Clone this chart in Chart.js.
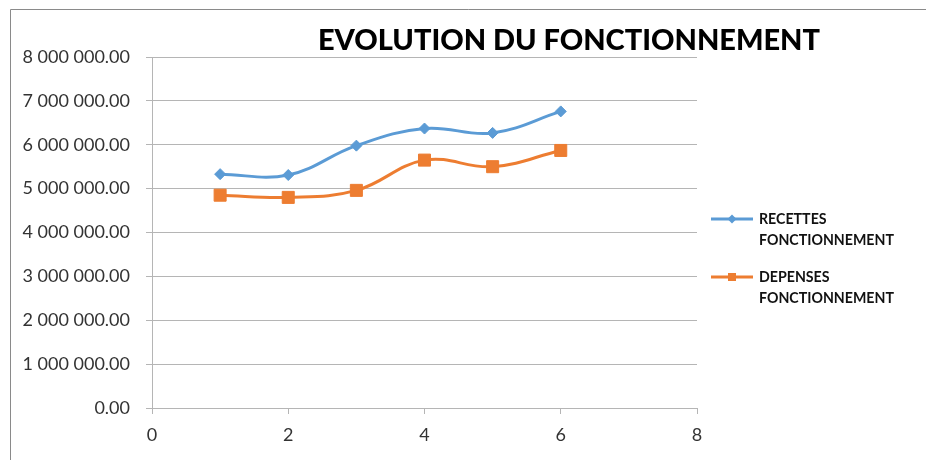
<!DOCTYPE html>
<html>
<head>
<meta charset="utf-8">
<script src="https://cdn.jsdelivr.net/npm/chart.js@4.4.1/dist/chart.umd.min.js"></script>
<style>
  html, body { margin: 0; padding: 0; background: #ffffff; }
  #wrap { width: 926px; height: 460px; position: relative; }
</style>
</head>
<body>
<div id="wrap"><canvas id="c" width="926" height="460"></canvas></div>
<script>
// ---- data ----
const xValues = [1, 2, 3, 4, 5, 6];
const recettes = [5330000, 5310000, 5980000, 6370000, 6270000, 6760000];
const depenses = [4850000, 4800000, 4960000, 5650000, 5500000, 5870000];
const seriesLabels = [["RECETTES", "FONCTIONNEMENT"], ["DEPENSES", "FONCTIONNEMENT"]];
const titleText = "EVOLUTION DU FONCTIONNEMENT";
const xMin = 0, xMax = 8, xStep = 2;
const yMin = 0, yMax = 8000000, yStep = 1000000;

const BLUE = '#5B9BD5';
const ORANGE = '#ED7D31';
const GRID = '#b5b5b5';
const FONT = 'Lato';

function fmt(v) {
  const s = Number(v).toFixed(2);
  const [ip, dp] = s.split('.');
  return ip.replace(/\B(?=(\d{3})+(?!\d))/g, ' ') + '.' + dp;
}

const decor = {
  id: 'decor',
  beforeDraw(chart) {
    const ctx = chart.ctx;
    ctx.save();
    ctx.fillStyle = '#ffffff';
    ctx.fillRect(0, 0, chart.width, chart.height);
    ctx.strokeStyle = '#8a8a8a';
    ctx.lineWidth = 1;
    ctx.beginPath();
    ctx.moveTo(10.5, chart.height + 5);
    ctx.lineTo(10.5, 9.5);
    ctx.lineTo(chart.width + 5, 9.5);
    ctx.stroke();
    ctx.restore();
  },
  afterDraw(chart) {
    const ctx = chart.ctx;
    ctx.save();
    // title
    let size = 34;
    ctx.font = '900 ' + size + 'px ' + FONT;
    const w = ctx.measureText(titleText).width;
    size = size * 502 / w;
    ctx.font = '900 ' + size.toFixed(2) + 'px ' + FONT;
    ctx.fillStyle = '#000000';
    ctx.textAlign = 'center';
    ctx.textBaseline = 'alphabetic';
    ctx.fillText(titleText, 569, 50);

    // legend
    const rows = [219, 277];
    ctx.font = 'bold 14px ' + FONT;
    const lw = ctx.measureText('FONCTIONNEMENT').width;
    const ls = 14 * 135 / lw;
    chart.data.datasets.forEach((ds, i) => {
      const y = rows[i];
      ctx.strokeStyle = ds.borderColor;
      ctx.lineWidth = 3;
      ctx.beginPath();
      ctx.moveTo(711, y);
      ctx.lineTo(753, y);
      ctx.stroke();
      ctx.fillStyle = ds.borderColor;
      ctx.beginPath();
      if (ds.pointStyle === 'rectRot') {
        const r = 4.5;
        ctx.moveTo(732 - r, y); ctx.lineTo(732, y - r); ctx.lineTo(732 + r, y); ctx.lineTo(732, y + r);
        ctx.closePath();
      } else {
        ctx.rect(728, y - 4, 8, 8);
      }
      ctx.fill();
      ctx.fillStyle = '#111111';
      ctx.textAlign = 'left';
      ctx.textBaseline = 'alphabetic';
      ctx.font = 'bold ' + ls.toFixed(2) + 'px ' + FONT;
      ctx.fillText(ds.label[0], 759, y + 5);
      ctx.fillText(ds.label[1], 759, y + 26);
    });
    ctx.restore();
  }
};

const chart = new Chart(document.getElementById('c'), {
  type: 'scatter',
  data: {
    datasets: [
      {
        label: seriesLabels[0],
        data: xValues.map((x, i) => ({ x: x, y: recettes[i] })),
        showLine: true,
        borderColor: BLUE,
        backgroundColor: BLUE,
        borderWidth: 3,
        tension: 0.4,
        pointStyle: 'rectRot',
        pointRadius: 5.5,
        pointBorderWidth: 1,
        pointBackgroundColor: BLUE,
        pointBorderColor: BLUE
      },
      {
        label: seriesLabels[1],
        data: xValues.map((x, i) => ({ x: x, y: depenses[i] })),
        showLine: true,
        borderColor: ORANGE,
        backgroundColor: ORANGE,
        borderWidth: 3,
        tension: 0.4,
        pointStyle: 'rect',
        pointRadius: 8.5,
        pointBorderWidth: 1,
        pointBackgroundColor: ORANGE,
        pointBorderColor: ORANGE
      }
    ]
  },
  options: {
    responsive: false,
    animation: false,
    devicePixelRatio: 1,
    layout: { padding: { top: 57, right: 229, left: 0, bottom: 0 } },
    plugins: {
      legend: { display: false },
      title: { display: false },
      tooltip: { enabled: false }
    },
    scales: {
      x: {
        type: 'linear',
        position: 'bottom',
        min: xMin, max: xMax,
        ticks: { stepSize: xStep, color: '#333333', font: { family: FONT, size: 18 }, padding: 10 },
        grid: { drawOnChartArea: false, drawTicks: true, tickLength: 6, color: GRID },
        border: { color: GRID, width: 1 },
        afterFit(scale) { scale.height = 52; }
      },
      y: {
        type: 'linear',
        min: yMin, max: yMax,
        ticks: { stepSize: yStep, color: '#333333', font: { family: FONT, size: 18 }, padding: 16, callback: (v) => fmt(v) },
        grid: { color: GRID, tickLength: 6 },
        border: { color: GRID, width: 1 },
        afterFit(scale) { scale.width = 152; }
      }
    }
  },
  plugins: [decor]
});
</script>
</body>
</html>
